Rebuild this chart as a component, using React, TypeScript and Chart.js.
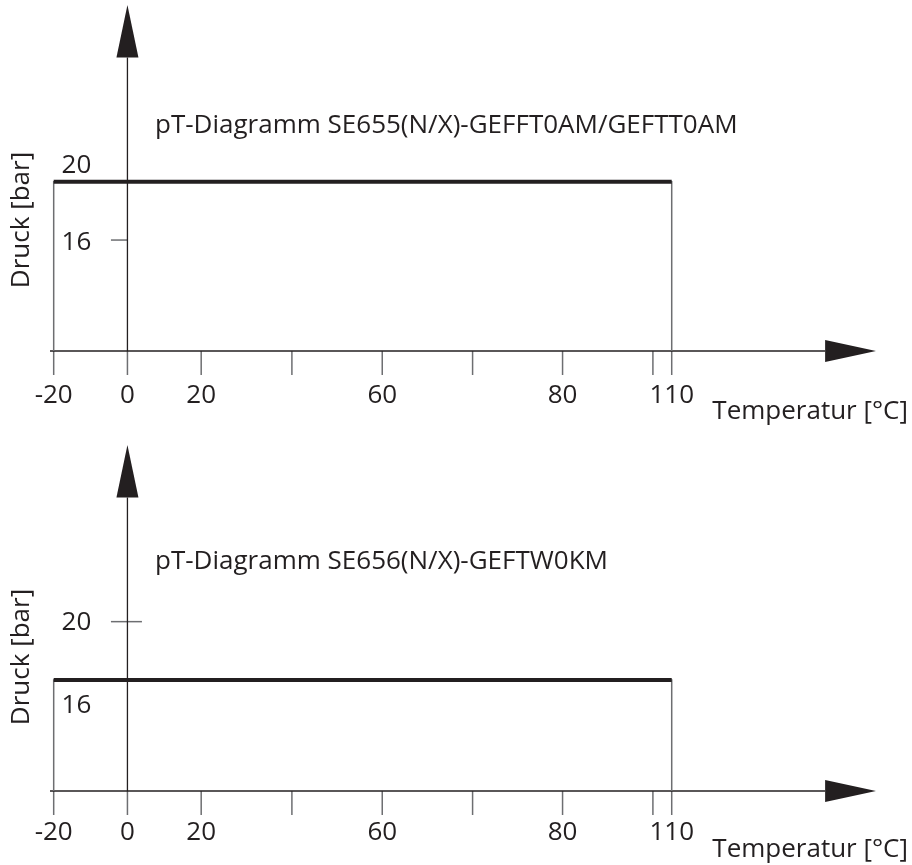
import { useEffect, useRef } from 'react';
import { Chart, registerables } from 'chart.js';

Chart.register(...registerables);

// ---- Data ----
// Temperature axis: the drawing is schematic (not to scale), so each tick label
// has its own place along the drawn axis (in axis units).
const tempTickLabels = ['-20', '0', '20', '', '60', '', '80', '', '110'];
const tempTickPositions = [-20, 0, 20, 44.6, 69.1, 93.6, 118, 142.5, 147.6];
// Pressure axis ticks [bar]
const pressureTicks = [20, 16];

// Diagram 1
const title1 = 'pT-Diagramm SE655(N/X)-GEFFT0AM/GEFTT0AM';
const tempRange1 = ['-20', '110'];
const maxPressure1 = 20;

// Diagram 2
const title2 = 'pT-Diagramm SE656(N/X)-GEFTW0KM';
const tempRange2 = ['-20', '110'];
const maxPressure2 = 16;

const xAxisTitle = 'Temperatur [°C]';
const yAxisTitle = 'Druck [bar]';

// ---- Axis extents (drawn axis incl. arrows) ----
const X_MIN = -21;
const X_MAX = 203;
const X_ARROW_BASE = 189.2;
const Y_MIN = 8.4;
const Y_MAX = 32.1;
const Y_ARROW_BASE = 28.5;

const FONT = '"Open Sans", "Noto Sans", sans-serif';
const INK = '#231f20';
const GREY = '#6d6e71';

const posOf = (label: string) => tempTickPositions[tempTickLabels.indexOf(label)];

const decorPlugin = {
  id: 'ptDecor',
  beforeDatasetsDraw(chart: any, _args: any, o: any) {
    const ctx: CanvasRenderingContext2D = chart.ctx;
    const xs = chart.scales.x;
    const ys = chart.scales.y;
    const ax = xs.getPixelForValue(0);
    const ay = ys.getPixelForValue(Y_MIN);
    const x0 = xs.getPixelForValue(X_MIN);
    const xTip = xs.getPixelForValue(X_MAX);
    const xBase = xs.getPixelForValue(X_ARROW_BASE);
    const yTip = ys.getPixelForValue(Y_MAX);
    const yBase = ys.getPixelForValue(Y_ARROW_BASE);
    const line = (a: number, b: number, c: number, d: number) => {
      ctx.beginPath();
      ctx.moveTo(a, b);
      ctx.lineTo(c, d);
      ctx.stroke();
    };
    ctx.save();
    // x ticks
    ctx.strokeStyle = GREY;
    ctx.lineWidth = 1.5;
    tempTickPositions.forEach((p) => {
      const px = xs.getPixelForValue(p);
      line(px, ay, px, ay + 24);
    });
    // y ticks
    pressureTicks.forEach((v) => {
      const py = ys.getPixelForValue(v);
      const cross = o.crossTicks.includes(v);
      line(ax - 16.5, py, cross ? ax + 14.5 : ax, py);
    });
    // axes
    ctx.strokeStyle = INK;
    ctx.lineWidth = 1.3;
    line(x0, ay, xBase, ay);
    line(ax, ay, ax, yBase);
    // arrow heads
    ctx.fillStyle = INK;
    ctx.beginPath();
    ctx.moveTo(xBase, ay - 11);
    ctx.lineTo(xTip, ay);
    ctx.lineTo(xBase, ay + 11);
    ctx.closePath();
    ctx.fill();
    ctx.beginPath();
    ctx.moveTo(ax - 11, yBase);
    ctx.lineTo(ax, yTip);
    ctx.lineTo(ax + 11, yBase);
    ctx.closePath();
    ctx.fill();
    // texts
    ctx.font = `26px ${FONT}`;
    ctx.textBaseline = 'alphabetic';
    ctx.textAlign = 'center';
    tempTickLabels.forEach((l, i) => {
      if (l) ctx.fillText(l, xs.getPixelForValue(tempTickPositions[i]), ay + o.xLabelDy);
    });
    pressureTicks.forEach((v, i) => {
      ctx.fillText(String(v), ax - 51, ys.getPixelForValue(v) + 10 + o.yLabelShift[i]);
    });
    ctx.textAlign = 'left';
    ctx.fillText(o.title, 155, o.titleBaseline);
    ctx.textAlign = 'right';
    ctx.fillText(xAxisTitle, 908, ay + o.xTitleDy);
    ctx.save();
    ctx.translate(22, o.yTitleCenter);
    ctx.rotate(-Math.PI / 2);
    ctx.textAlign = 'center';
    ctx.textBaseline = 'middle';
    ctx.fillText(yAxisTitle, 0, 0);
    ctx.restore();
    ctx.restore();
  },
};

function makeChart(canvas: HTMLCanvasElement, cfg: any) {
  const xa = posOf(cfg.range[0]);
  const xb = posOf(cfg.range[1]);
  const p = cfg.pressure;
  return new Chart(canvas, {
    type: 'line',
    data: {
      datasets: [
        {
          label: 'pT',
          order: 0,
          data: [
            { x: xa, y: p },
            { x: xb, y: p },
          ],
          borderColor: INK,
          borderWidth: 4,
          borderCapStyle: 'butt',
          pointRadius: 0,
          tension: 0,
          fill: false,
        },
        {
          label: 'Grenze',
          order: 1,
          data: [
            { x: xa, y: Y_MIN },
            { x: xa, y: p },
            { x: xb, y: p },
            { x: xb, y: Y_MIN },
          ],
          borderColor: GREY,
          borderWidth: 1.5,
          pointRadius: 0,
          tension: 0,
          fill: false,
        },
      ],
    },
    options: {
      responsive: false,
      animation: false,
      devicePixelRatio: 1,
      layout: { padding: { left: 50, right: 36, top: 5, bottom: cfg.bottomPad } },
      scales: {
        x: { type: 'linear', min: X_MIN, max: X_MAX, display: false },
        y: { type: 'linear', min: Y_MIN, max: Y_MAX, display: false },
      },
      plugins: {
        legend: { display: false },
        tooltip: { enabled: false },
        ptDecor: cfg.decor,
      },
    } as any,
    plugins: [decorPlugin],
  });
}

export default function App() {
  const ref1 = useRef<HTMLCanvasElement>(null);
  const ref2 = useRef<HTMLCanvasElement>(null);
  useEffect(() => {
    const c1 = makeChart(ref1.current!, {
      range: tempRange1,
      pressure: maxPressure1,
      bottomPad: 89,
      decor: {
        title: title1,
        titleBaseline: 133,
        crossTicks: [20],
        yLabelShift: [-18.5, 0],
        xLabelDy: 52,
        xTitleDy: 68,
        yTitleCenter: 220,
      },
    });
    const c2 = makeChart(ref2.current!, {
      range: tempRange2,
      pressure: maxPressure2,
      bottomPad: 74,
      decor: {
        title: title2,
        titleBaseline: 129,
        crossTicks: [20],
        yLabelShift: [-2, 23],
        xLabelDy: 49,
        xTitleDy: 66,
        yTitleCenter: 217,
      },
    });
    return () => {
      c1.destroy();
      c2.destroy();
    };
  }, []);
  return (
    <div
      style={{
        position: 'absolute',
        left: 0,
        top: 0,
        width: 912,
        height: 865,
        overflow: 'hidden',
        background: '#fff',
      }}
    >
      <canvas ref={ref1} width={912} height={440} style={{ display: 'block' }} />
      <canvas ref={ref2} width={912} height={425} style={{ display: 'block' }} />
    </div>
  );
}
